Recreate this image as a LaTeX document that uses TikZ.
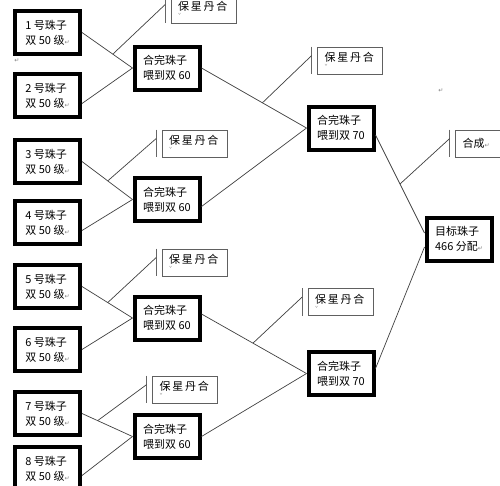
\documentclass[tikz,border=0pt]{standalone}
\usepackage{fontspec}
\newfontfamily\cjk{Noto Sans CJK SC}
\newfontfamily\symb{DejaVu Sans}
\newcommand{\ret}{{\symb\fontsize{6}{6}\selectfont\color{gray}↵}}
\newcommand{\dotmark}{{\fontsize{5}{5}\selectfont\color{gray}ˇ}}
\newcommand{\baoxing}{保\hspace{1.8pt}星\hspace{1.8pt}丹\hspace{1.8pt}合}

\begin{document}
\begin{tikzpicture}[x=1pt, y=-1pt,
                        every node/.style={font=\cjk\fontsize{11}{15}\selectfont, inner sep=0pt}
                    ]

    % Define custom styles for boxes and lines
    \tikzset{
        bead/.style={draw, line width=4pt, minimum width=65pt, minimum height=43pt, align=left}
    }
    \tikzset{
        callout/.style={draw=gray!75!black, line width=0.8pt, text width=51pt, inner xsep=7pt,
                        minimum height=27pt, align=left}
    }
    \tikzset{
        wire/.style={draw=black!75, line width=0.7pt},
        bracket/.style={draw=gray!80!black, line width=1.2pt}
    }

    \useasboundingbox[fill=white] (0,0) rectangle (500,485);

    % First column of nodes
    \foreach \i/\y in {1/32.5, 2/95.5, 3/161.5, 4/222.5, 5/286.5, 6/349.5, 7/413.5, 8/468.5}
        \node[bead] (L\i) at (47.5,\y) {\i{} 号珠子\\双 50 级\ret};

    % Second column of nodes
    \foreach \i/\y in {1/68, 2/199.5, 3/318, 4/436.5}
        \node[bead] (M\i) at (167,\y) {合完珠子\\喂到双 60};

    % Third column of nodes
    \node[bead] (N1) at (341,128) {合完珠子\\喂到双 70};
    \node[bead] (N2) at (341,373.5) {合完珠子\\喂到双 70};

    % Target node
    \node[bead] (T) at (459,239) {目标珠子\\466 分配\ret};

    % Callout boxes
    \node[callout] (S1) at (203.5,9.5) {\baoxing\\[-8pt]\dotmark};
    \node[callout] (S2) at (194.5,143.5) {\baoxing\\[-8pt]\dotmark};
    \node[callout] (S3) at (194.5,262.5) {\baoxing\\[-8pt]\dotmark};
    \node[callout] (S4) at (185,389.5) {\baoxing\\[-8pt]\dotmark};
    \node[callout] (S5) at (350,60.5) {\baoxing\\[-8pt]\dotmark};
    \node[callout] (S6) at (340.5,302) {\baoxing\\[-8pt]\dotmark};
    \node[callout] (H) at (488,143.5) {合成\ret};

    % Stray marks
    \node (ret1) at (17,61) {\ret};
    \node (ret2) at (441,91) {\ret};

    % Edges between nodes
    \foreach \i/\p/\d in {1/0.61/0, 2/0.5/8, 3/0.51/0, 4/0.5/8, 5/0.51/0, 6/0.5/0, 7/0.31/0, 8/0.5/7} {
        \pgfmathtruncatemacro{\j}{(\i+1)/2}
        \draw[wire] ([shift={(0,\d)}]L\i.east) -- node[pos=\p, coordinate] (w\i) {} (M\j.west);
    }
    \foreach \i/\p/\d in {1/0.58/0, 2/0.5/7, 3/0.49/-4, 4/0.5/0} {
        \pgfmathtruncatemacro{\j}{(\i+1)/2}
        \draw[wire] ([shift={(0,\d)}]M\i.east) -- node[pos=\p, coordinate] (v\i) {} (N\j.west);
    }
    \draw[wire] ([shift={(0,7)}]N1.east) -- node[pos=0.5, coordinate] (w9) {} ([shift={(0,-6)}]T.west);
    \draw[wire] ([shift={(0,-5)}]N2.east) -- ([shift={(0,8)}]T.west);

    % Brackets and leaders of the callouts
    \foreach \s in {S1,S2,S3,S4,S5,S6,H} {
        \draw[bracket] ([xshift=-5.5pt]\s.north west) -- ([xshift=-5.5pt]\s.south west);
        \coordinate (\s-tip) at ([xshift=-5.5pt, yshift=-9pt]\s.north west);
    }
    \foreach \a/\b in {w1/S1, w3/S2, w5/S3, w7/S4, v1/S5, v3/S6, w9/H}
        \draw[wire] (\a) -- (\b-tip);

\end{tikzpicture}
\end{document}
